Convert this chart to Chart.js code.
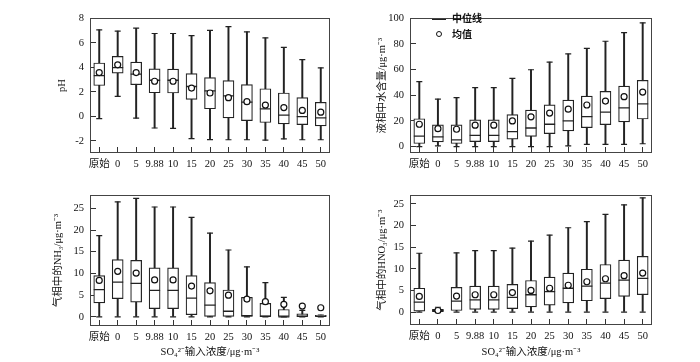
<!DOCTYPE html>
<html>
<head>
<meta charset="utf-8">
<title>SO4 input concentration box plots</title>
<script src="https://cdn.jsdelivr.net/npm/chart.js@4.4.0/dist/chart.umd.min.js"></script>
<style>
    body { margin: 0; background: #ffffff; }
    #wrap { position: relative; width: 700px; height: 362px; overflow: hidden; }
    #wrap canvas { position: absolute; }
    #legend { position: absolute; left: 432px; top: 10px; font-family: "Noto Sans CJK SC", sans-serif; font-size: 10px; font-weight: bold; color: #111; }
    #legend .item { height: 15.5px; line-height: 15.5px; white-space: nowrap; }
    #legend .sym { display: inline-block; width: 14px; margin-right: 6px; vertical-align: middle; text-align: center; }
    #legend .line { height: 1.5px; background: #222; }
    #legend .dot { height: 8px; line-height: 8px; }
    #legend .dot span { display: inline-block; width: 4px; height: 4px; border: 1.2px solid #111; border-radius: 50%; vertical-align: top; margin-top: 0.5px; }
</style>
</head>
<body>
<div id="wrap">
    <canvas id="phChart" width="350" height="177" style="left:0;top:0"></canvas>
    <canvas id="waterChart" width="350" height="177" style="left:350px;top:0"></canvas>
    <canvas id="nh3Chart" width="350" height="185" style="left:0;top:177px"></canvas>
    <canvas id="hno3Chart" width="350" height="185" style="left:350px;top:177px"></canvas>
    <div id="legend">
        <div class="item"><span class="sym line"></span>中位线</div>
        <div class="item"><span class="sym dot"><span></span></span>均值</div>
    </div>
</div>

<script>
    // categories (SO4 input concentration)
    const categories = ['原始', '0', '5', '9.88', '10', '15', '20', '25', '30', '35', '40', '45', '50'];

    // pH
    const phMin    = [-0.2, 1.62, -0.15, -0.96, -0.99, -1.82, -1.9, -1.92, -1.92, -1.95, -1.85, -1.92, -1.92];
    const phQ1     = [2.51, 3.52, 2.58, 1.92, 1.9, 1.37, 0.61, -0.13, -0.35, -0.51, -0.63, -0.68, -0.78];
    const phMedian = [3.32, 3.97, 3.44, 2.94, 2.94, 2.43, 2.08, 1.67, 1.16, 0.61, 0.1, -0.03, -0.13];
    const phQ3     = [4.35, 4.89, 4.43, 3.87, 3.85, 3.49, 3.16, 2.91, 2.58, 2.25, 1.9, 1.52, 1.14];
    const phMax    = [7.06, 6.96, 7.19, 6.76, 6.76, 6.58, 7.01, 7.32, 6.89, 6.4, 5.62, 4.63, 3.95];
    const phMean   = [3.57, 4.2, 3.57, 2.86, 2.86, 2.3, 1.9, 1.52, 1.19, 0.91, 0.71, 0.48, 0.33];
    const phTicks  = [-2, 0, 2, 4, 6, 8];

    // liquid water content
    const waterMin    = [0, 0.5, 0, 0, 0, 0, 0, 0, 0.5, 1.7, 1.7, 1.7, 2.2];
    const waterQ1     = [2.4, 3.6, 2.4, 3.9, 3.9, 5.8, 8, 10.1, 12.3, 14.7, 17.1, 19.3, 21.5];
    const waterMedian = [8.2, 7.5, 5.3, 8.7, 8.7, 11.6, 14.5, 17.4, 20, 23.4, 26.8, 30.2, 33.3];
    const waterQ3     = [21.7, 16.9, 16.9, 20.8, 20.8, 24.9, 28.5, 32.6, 36.2, 39.4, 43, 47.1, 51.7];
    const waterMax    = [50.7, 37, 38.2, 45.9, 45.9, 53.1, 59.9, 65.9, 72.2, 76.6, 82.1, 88.9, 96.4];
    const waterMean   = [17.4, 14, 13.5, 16.7, 16.7, 20, 23.2, 26.1, 29.2, 32.4, 35.5, 38.9, 42.5];
    const waterTicks  = [0, 20, 40, 60, 80, 100];

    // gas phase NH3
    const nh3Min    = [0, 0, 0, 0, 0, 0, 0, 0, 0, 0, 0, 0, 0];
    const nh3Q1     = [3.2, 4.2, 3.4, 1.9, 1.9, 0.5, 0, 0, 0, 0, 0, 0, 0];
    const nh3Median = [6.3, 8.0, 7.7, 6.1, 6.1, 4.3, 2.7, 1.3, 0.3, 0.1, 0, 0.1, 0.15];
    const nh3Q3     = [9.5, 13.2, 13.0, 11.3, 11.3, 9.5, 7.9, 6.2, 4.5, 3.1, 1.7, 0.7, 0.35];
    const nh3Max    = [18.7, 26.5, 27.3, 25.3, 25.3, 22.9, 19.3, 15.4, 11.5, 7.9, 4.5, 1.5, 0.4];
    const nh3Mean   = [8.4, 10.5, 10.1, 8.5, 8.5, 7.1, 6.0, 5.0, 4.1, 3.5, 2.9, 2.5, 2.1];
    const nh3Ticks  = [0, 5, 10, 15, 20, 25];

    // gas phase HNO3
    const hno3Min    = [0, 0, 0, 0, 0, 0, 0, 0, 0, 0, 0, 0, 0];
    const hno3Q1     = [0.2, 0.1, 0.35, 0.6, 0.6, 0.8, 1.2, 1.6, 2.1, 2.6, 3.1, 3.6, 4.0];
    const hno3Median = [2.3, 0.35, 2.5, 2.8, 2.8, 3.4, 4.0, 4.7, 5.5, 6.0, 6.7, 7.4, 7.8];
    const hno3Q3     = [5.5, 0.6, 5.7, 6.0, 6.0, 6.4, 7.3, 8.1, 9.0, 9.9, 11.0, 12.0, 12.9];
    const hno3Max    = [13.6, 1.1, 13.7, 14.2, 14.2, 14.8, 16.4, 17.8, 19.5, 20.9, 22.6, 24.8, 26.4];
    const hno3Mean   = [3.6, 0.35, 3.7, 4.0, 4.0, 4.5, 5.0, 5.5, 6.2, 7.0, 7.7, 8.4, 9.0];
    const hno3Ticks  = [0, 5, 10, 15, 20, 25];

    const serif = "'Liberation Serif', 'Noto Sans CJK SC', serif";
    const ink = '#222';

    // box outline around the plot area
    const framePlugin = {
        id: 'frame',
        beforeDatasetsDraw(chart) {
            const a = chart.chartArea;
            const ctx = chart.ctx;
            ctx.save();
            ctx.strokeStyle = '#444';
            ctx.lineWidth = 1;
            ctx.strokeRect(Math.round(a.left) + 0.5, Math.round(a.top) + 0.5,
                Math.round(a.right - a.left) - 1, Math.round(a.bottom - a.top) - 1);
            ctx.restore();
        }
    };

    function boxDatasets(min, q1, med, q3, max, mean) {
        return [
            { type: 'line', data: mean, showLine: false, pointStyle: 'circle', pointRadius: 3,
              pointBackgroundColor: '#fff', pointBorderColor: '#111', pointBorderWidth: 1.2, order: 0 },
            { type: 'line', data: med, showLine: false, pointStyle: 'line', pointRadius: 5.5,
              pointBorderColor: ink, pointBorderWidth: 1.3, order: 1 },
            { type: 'bar', data: categories.map((c, i) => [q1[i], q3[i]]), backgroundColor: '#fff',
              borderColor: ink, borderWidth: 1.2, borderSkipped: false, barThickness: 11, grouped: false, order: 2 },
            { type: 'bar', data: categories.map((c, i) => [min[i], max[i]]), backgroundColor: ink,
              borderWidth: 0, barThickness: 1.3, grouped: false, order: 3 },
            { type: 'line', data: max, showLine: false, pointStyle: 'line', pointRadius: 3,
              pointBorderColor: ink, pointBorderWidth: 1.2, order: 4 },
            { type: 'line', data: min, showLine: false, pointStyle: 'line', pointRadius: 3,
              pointBorderColor: ink, pointBorderWidth: 1.2, order: 4 }
        ];
    }

    function setGraph(id, opt) {
        const ctx = document.getElementById(id).getContext('2d');
        return new Chart(ctx, {
            type: 'bar',
            data: { labels: categories, datasets: opt.datasets },
            options: {
                responsive: false,
                animation: false,
                events: [],
                layout: { padding: { top: opt.top, right: opt.right, left: 0, bottom: 0 } },
                plugins: { legend: { display: false }, tooltip: { enabled: false } },
                scales: {
                    x: {
                        offset: true,
                        border: { display: false },
                        grid: { offset: false, drawOnChartArea: false, tickLength: -6, color: '#333' },
                        ticks: { padding: 10.5, maxRotation: 0, autoSkip: false, color: '#111',
                                 font: { family: serif, size: 10.5 } },
                        afterFit: s => { s.height = opt.xHeight; },
                        title: {
                            display: !!opt.xTitle,
                            text: opt.xTitle || '',
                            color: '#111',
                            font: { family: serif, size: 10.5 },
                            padding: { top: 0, bottom: 3.7 }
                        }
                    },
                    y: {
                        min: opt.min,
                        max: opt.max,
                        border: { display: false },
                        grid: { drawOnChartArea: false, tickLength: -6, color: '#333' },
                        ticks: { padding: 12, color: '#111', font: { family: serif, size: 10.5 } },
                        afterBuildTicks: s => { s.ticks = opt.ticks.map(v => ({ value: v })); },
                        afterFit: s => { s.width = opt.yWidth; },
                        title: {
                            display: true,
                            text: opt.yTitle,
                            color: '#111',
                            font: { family: serif, size: 10.5 },
                            padding: { top: opt.yTitlePad, bottom: 0 }
                        }
                    }
                }
            },
            plugins: [framePlugin]
        });
    }

    setGraph('phChart', {
        datasets: boxDatasets(phMin, phQ1, phMedian, phQ3, phMax, phMean),
        min: -3, max: 8, ticks: phTicks,
        top: 8, right: 20, yWidth: 90, xHeight: 24,
        yTitle: 'pH', yTitlePad: 55.7
    });

    setGraph('waterChart', {
        datasets: boxDatasets(waterMin, waterQ1, waterMedian, waterQ3, waterMax, waterMean),
        min: -5, max: 100, ticks: waterTicks,
        top: 8, right: 48, yWidth: 60, xHeight: 24,
        yTitle: '液相中水含量/μg·m⁻³', yTitlePad: 25.7
    });

    setGraph('nh3Chart', {
        datasets: boxDatasets(nh3Min, nh3Q1, nh3Median, nh3Q3, nh3Max, nh3Mean),
        min: -2.1, max: 28, ticks: nh3Ticks,
        top: 3, right: 20, yWidth: 90, xHeight: 36,
        yTitle: '气相中的NH₃/μg·m⁻³', yTitlePad: 51.7,
        xTitle: 'SO₄²⁻输入浓度/μg·m⁻³'
    });

    setGraph('hno3Chart', {
        datasets: boxDatasets(hno3Min, hno3Q1, hno3Median, hno3Q3, hno3Max, hno3Mean),
        min: -3, max: 27, ticks: hno3Ticks,
        top: 3, right: 48, yWidth: 60, xHeight: 37,
        yTitle: '气相中的HNO₃/μg·m⁻³', yTitlePad: 25.7,
        xTitle: 'SO₄²⁻输入浓度/μg·m⁻³'
    });
</script>
</body>
</html>
